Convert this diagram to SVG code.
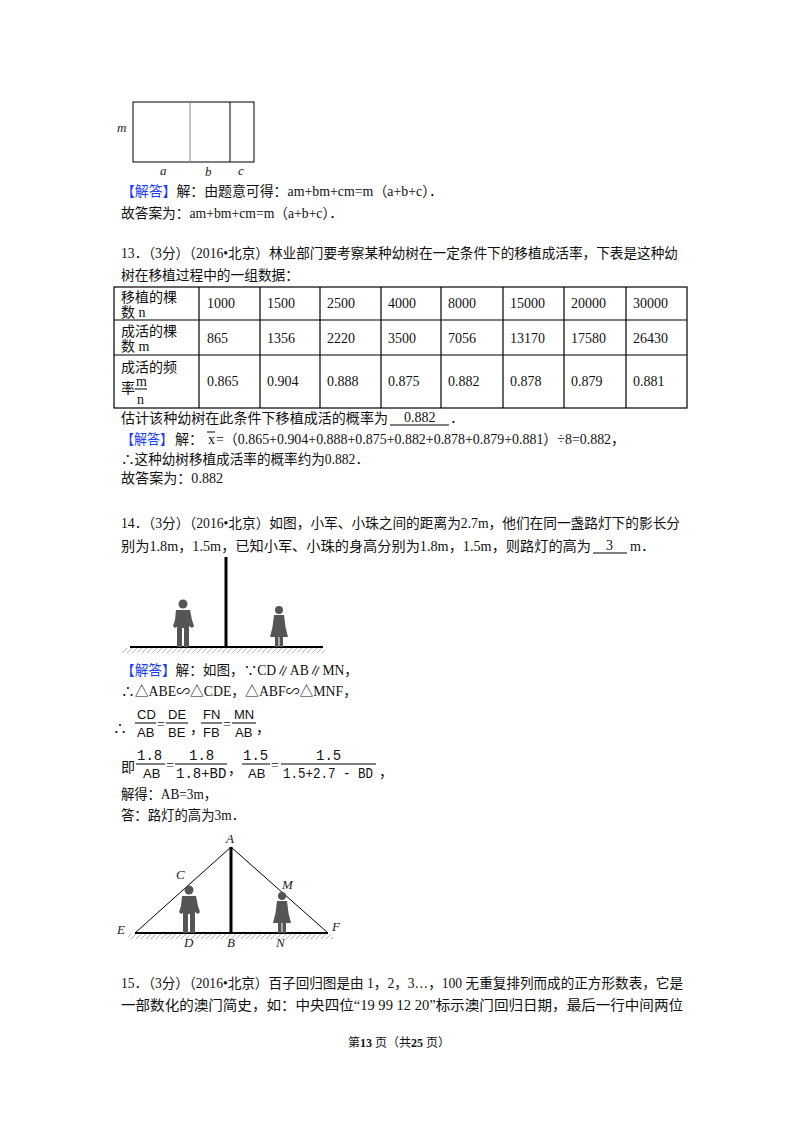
<svg xmlns="http://www.w3.org/2000/svg" width="800" height="1132" viewBox="0 0 800 1132">
<style>
.t{font-family:"Liberation Serif","Noto Sans CJK SC",serif;font-size:14px;fill:#111}
.b{fill:#1a3cff}
.i{font-family:"Liberation Serif",serif;font-style:italic;font-size:13px;fill:#222}
.m{font-family:"Liberation Mono","DejaVu Sans Mono",monospace;font-size:14px;fill:#111}
.s{font-family:"Liberation Sans","Noto Sans CJK SC",sans-serif;font-size:13px;fill:#111}
.f{font-family:"Liberation Serif","Noto Sans CJK SC",serif;font-size:12px;fill:#111}
.ln{stroke:#000;stroke-width:1;fill:none}
.tb{stroke:#000;stroke-width:1.2;fill:none}
.fig{fill:#555}
</style>
<defs>
<pattern id="h" width="5" height="5" patternUnits="userSpaceOnUse"><path d="M0 5L5 0" stroke="#bbb" stroke-width="1"/></pattern>
<symbol id="man" overflow="visible">
<circle cx="0" cy="-43" r="4.5"/>
<path d="M-7 -37h14l2 10l2 6l-2 2l-3-2l0 2h-11l0-2l-3 2l-2-2l2-6z"/>
<rect x="-6" y="-22" width="5" height="22"/><rect x="1" y="-22" width="5" height="22"/>
</symbol>
<symbol id="wom" overflow="visible">
<circle cx="0" cy="-37" r="4"/>
<path d="M-5 -32h10l1.5 12l2.5 10h-18l2.5-10z"/>
<rect x="-4" y="-11" width="3.5" height="11"/><rect x="0.5" y="-11" width="3.5" height="11"/>
</symbol>
</defs>

<g id="fig-rect">
<rect x="133" y="102" width="121" height="60" class="ln"/>
<line x1="190" y1="102" x2="190" y2="162" stroke="#888"/>
<line x1="230" y1="102" x2="230" y2="162" stroke="#000"/>
<text x="117" y="132" class="i">m</text>
<text x="160" y="175" class="i">a</text>
<text x="205" y="176" class="i">b</text>
<text x="238" y="175" class="i">c</text>
</g>

<g id="q12-answer">
<text x="121" y="196" class="t" textLength="322" lengthAdjust="spacingAndGlyphs"><tspan class="b">【解答】</tspan>解：由题意可得：am+bm+cm=m（a+b+c）．</text>
<text x="121" y="218" class="t" textLength="222" lengthAdjust="spacingAndGlyphs">故答案为：am+bm+cm=m（a+b+c）．</text>
</g>

<g id="q13">
<text x="121" y="258" class="t" textLength="557" lengthAdjust="spacingAndGlyphs">13．（3分）（2016•北京）林业部门要考察某种幼树在一定条件下的移植成活率，下表是这种幼</text>
<text x="121" y="280" class="t" textLength="178" lengthAdjust="spacingAndGlyphs">树在移植过程中的一组数据：</text>
</g>

<g id="table">
<rect x="114" y="287" width="573" height="121" class="tb"/>
<line x1="114" y1="320" x2="687" y2="320" class="tb"/>
<line x1="114" y1="355" x2="687" y2="355" class="tb"/>
<g class="tb">
<line x1="199" y1="287" x2="199" y2="408"/><line x1="260" y1="287" x2="260" y2="408"/>
<line x1="320" y1="287" x2="320" y2="408"/><line x1="381" y1="287" x2="381" y2="408"/>
<line x1="441" y1="287" x2="441" y2="408"/><line x1="503" y1="287" x2="503" y2="408"/>
<line x1="564" y1="287" x2="564" y2="408"/><line x1="626" y1="287" x2="626" y2="408"/>
</g>
<text x="121" y="302" class="t">移植的棵</text><text x="121" y="317" class="t">数 n</text>
<text x="121" y="336" class="t">成活的棵</text><text x="121" y="351" class="t">数 m</text>
<text x="121" y="372" class="t">成活的频</text><text x="121" y="393" class="t">率</text>
<text x="136" y="386" class="t" font-size="11px">m</text>
<line x1="135" y1="389" x2="147" y2="389" stroke="#000"/>
<text x="137" y="404" class="t" font-size="11px">n</text>
<g class="t">
<text x="207" y="308">1000</text><text x="267" y="308">1500</text><text x="327" y="308">2500</text><text x="388" y="308">4000</text>
<text x="448" y="308">8000</text><text x="510" y="308">15000</text><text x="571" y="308">20000</text><text x="633" y="308">30000</text>
<text x="207" y="343">865</text><text x="267" y="343">1356</text><text x="327" y="343">2220</text><text x="388" y="343">3500</text>
<text x="448" y="343">7056</text><text x="510" y="343">13170</text><text x="571" y="343">17580</text><text x="633" y="343">26430</text>
<text x="207" y="386">0.865</text><text x="267" y="386">0.904</text><text x="327" y="386">0.888</text><text x="388" y="386">0.875</text>
<text x="448" y="386">0.882</text><text x="510" y="386">0.878</text><text x="571" y="386">0.879</text><text x="633" y="386">0.881</text>
</g>
</g>

<g id="q13-answer">
<text x="121" y="423" class="t" textLength="267" lengthAdjust="spacingAndGlyphs">估计该种幼树在此条件下移植成活的概率为</text>
<text x="404" y="422" class="t">0.882</text>
<line x1="390" y1="425" x2="449" y2="425" stroke="#000"/>
<text x="450" y="423" class="t">．</text>
<text x="121" y="444" class="t" textLength="52" lengthAdjust="spacingAndGlyphs"><tspan class="b">【解答】</tspan></text>
<text x="175" y="444" class="t">解：</text>
<line x1="207" y1="432" x2="215" y2="432" stroke="#000"/>
<text x="208" y="444" class="t">x</text>
<text x="216" y="444" class="t" textLength="409" lengthAdjust="spacingAndGlyphs">=（0.865+0.904+0.888+0.875+0.882+0.878+0.879+0.881）÷8=0.882，</text>
<text x="121" y="464" class="t" textLength="248" lengthAdjust="spacingAndGlyphs">∴这种幼树移植成活率的概率约为0.882．</text>
<text x="121" y="483" class="t" textLength="102" lengthAdjust="spacingAndGlyphs">故答案为：0.882</text>
</g>

<g id="q14">
<text x="121" y="528" class="t" textLength="559" lengthAdjust="spacingAndGlyphs">14．（3分）（2016•北京）如图，小军、小珠之间的距离为2.7m，他们在同一盏路灯下的影长分</text>
<text x="121" y="551" class="t" textLength="470" lengthAdjust="spacingAndGlyphs">别为1.8m，1.5m，已知小军、小珠的身高分别为1.8m，1.5m，则路灯的高为</text>
<text x="606" y="550" class="t">3</text>
<line x1="593" y1="553" x2="627" y2="553" stroke="#000"/>
<text x="630" y="551" class="t">m．</text>
</g>

<g id="fig-lamp">
<rect x="122" y="648" width="203" height="5" fill="url(#h)"/>
<line x1="130" y1="647" x2="323" y2="647" stroke="#000" stroke-width="2"/>
<line x1="226" y1="557" x2="226" y2="647" stroke="#000" stroke-width="3"/>
<use href="#man" x="183" y="647" class="fig"/>
<use href="#wom" x="279" y="647" class="fig"/>
</g>

<g id="q14-answer">
<text x="121" y="675" class="t" textLength="237" lengthAdjust="spacingAndGlyphs"><tspan class="b">【解答】</tspan>解：如图，∵CD∥AB∥MN，</text>
<text x="121" y="696" class="t" textLength="236" lengthAdjust="spacingAndGlyphs">∴△ABE∽△CDE，△ABF∽△MNF，</text>
<text x="113" y="733" class="t">∴</text>
<text x="137" y="719" class="s">CD</text><line x1="135" y1="723" x2="156" y2="723" stroke="#000"/><text x="137" y="737" class="s">AB</text>
<text x="157" y="729" class="t">=</text>
<text x="168" y="719" class="s">DE</text><line x1="166" y1="723" x2="188" y2="723" stroke="#000"/><text x="168" y="737" class="s">BE</text>
<text x="190" y="733" class="t">，</text>
<text x="203" y="719" class="s">FN</text><line x1="201" y1="723" x2="222" y2="723" stroke="#000"/><text x="203" y="737" class="s">FB</text>
<text x="223" y="729" class="t">=</text>
<text x="234" y="719" class="s">MN</text><line x1="232" y1="723" x2="256" y2="723" stroke="#000"/><text x="235" y="737" class="s">AB</text>
<text x="256" y="733" class="t">，</text>

<text x="121" y="772" class="t">即</text>
<text x="137" y="760" class="m">1.8</text><line x1="136" y1="764" x2="165" y2="764" stroke="#000"/><text x="143" y="778" class="s">AB</text>
<text x="166" y="770" class="t">=</text>
<text x="189" y="760" class="m">1.8</text><line x1="175" y1="764" x2="227" y2="764" stroke="#000"/><text x="176" y="778" class="m">1.8+BD</text>
<text x="228" y="774" class="t">，</text>
<text x="243" y="760" class="m">1.5</text><line x1="242" y1="764" x2="270" y2="764" stroke="#000"/><text x="248" y="778" class="s">AB</text>
<text x="271" y="770" class="t">=</text>
<text x="316" y="760" class="m">1.5</text><line x1="281" y1="764" x2="376" y2="764" stroke="#000"/><text x="283" y="778" class="m" textLength="90" lengthAdjust="spacingAndGlyphs">1.5+2.7 - BD</text>
<text x="379" y="777" class="t">，</text>
<text x="121" y="799" class="t" textLength="96" lengthAdjust="spacingAndGlyphs">解得：AB=3m，</text>
<text x="121" y="820" class="t" textLength="124" lengthAdjust="spacingAndGlyphs">答：路灯的高为3m．</text>
</g>

<g id="fig-triangle">
<rect x="128" y="934" width="205" height="5" fill="url(#h)"/>
<line x1="135" y1="933" x2="328" y2="933" stroke="#000" stroke-width="2"/>
<path d="M135 933L231 847L328 933" class="ln"/>
<line x1="231" y1="847" x2="231" y2="933" stroke="#000" stroke-width="3"/>
<use href="#man" x="189" y="933" class="fig"/>
<use href="#wom" x="282" y="933" class="fig"/>
<text x="226" y="843" class="i">A</text>
<text x="176" y="879" class="i">C</text>
<text x="282" y="889" class="i">M</text>
<text x="117" y="934" class="i">E</text>
<text x="332" y="931" class="i">F</text>
<text x="184" y="947" class="i">D</text>
<text x="227" y="947" class="i">B</text>
<text x="276" y="947" class="i">N</text>
</g>

<g id="q15">
<text x="121" y="988" class="t" textLength="562" lengthAdjust="spacingAndGlyphs">15．（3分）（2016•北京）百子回归图是由 1，2，3…，100 无重复排列而成的正方形数表，它是</text>
<text x="121" y="1010" class="t" textLength="562" lengthAdjust="spacingAndGlyphs">一部数化的澳门简史，如：中央四位“19 99 12 20”标示澳门回归日期，最后一行中间两位</text>
</g>

<g id="footer">
<text x="348" y="1047" class="f">第</text>
<text x="360" y="1047" class="f" font-weight="bold" font-size="15px">13</text>
<text x="375" y="1047" class="f">页（共</text>
<text x="411" y="1047" class="f" font-weight="bold" font-size="15px">25</text>
<text x="426" y="1047" class="f">页）</text>
</g>
</svg>
